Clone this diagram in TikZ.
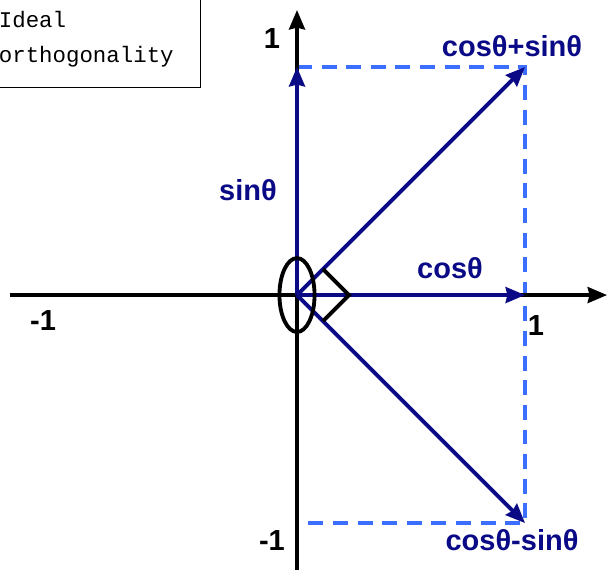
\documentclass[tikz,border=0pt]{standalone}
\usepackage{fontspec}
\setmainfont{Liberation Sans}
\setmonofont{Liberation Mono}
\usetikzlibrary{arrows.meta}

\definecolor{vecblue}{RGB}{10,10,135}
\definecolor{dashblue}{RGB}{60,110,255}

\begin{document}
\begin{tikzpicture}[
		x = 4.56cm, y = 4.56cm, % one unit = distance to the tick 1
		> = {Stealth[length=11pt, width=9pt, inset=1pt]}, % arrow head style
		line width = 2.2pt, % line style
		font = \fontsize{16.5}{19}\selectfont\bfseries
		]
		
		\tikzstyle{axis}=[draw = black, line width = 2.2pt, ->]
		\tikzstyle{vec}=[draw = vecblue, line width = 2.2pt, ->]
		\tikzstyle{guide}=[draw = dashblue, line width = 2.2pt, dash pattern = on 8.5pt off 5.5pt]
		\tikzstyle{vlabel}=[text = vecblue]
		\tikzstyle{tick}=[text = black]
		\tikzstyle{memo}=[font = \fontsize{12.75}{20.4}\selectfont\ttfamily, anchor = base west, inner sep = 0pt]
		
		\useasboundingbox (-1.3026,-1.2018) rectangle (1.364,1.294);
		
		% points
		\coordinate (o) at (0,0);
		\coordinate (e1) at (1,0);
		\coordinate (e2) at (0,1);
		\coordinate (e3) at (0,-1);
		\coordinate (pp) at (1,1);
		\coordinate (pm) at (1,-1);
		\coordinate (xl) at (-1.26,0);
		\coordinate (xr) at (1.36,0);
		\coordinate (yb) at (0,-1.25);
		\coordinate (yt) at (0,1.25);
		
		% the note box in the corner
		\node[memo] (ideal) at (-1.316,1.175) {Ideal};
		\node[memo] (ortho) at (-1.316,1.018) {orthogonality};
		\coordinate (boxtl) at (-1.40,1.40);
		\coordinate (boxbr) at (-0.425,0.912);
		\draw[line width=0.6pt] (boxtl) rectangle (boxbr);
		
		% projections
		\draw[guide] (e2) -- (pp) -- (pm) -- (e3);
		
		% axes
		\path (xl) edge[axis] (xr)
				(yb) edge[axis] (yt);
		
		% vectors
		\path (o) edge[vec] (e1)
				edge[vec] (e2)
				edge[vec] (pp)
				edge[vec] (pm);
		
		% ellipse and right angle
		\draw (o) ellipse [x radius=0.077, y radius=0.162];
		\coordinate (ra1) at (0.114,0.114);
		\coordinate (ra2) at (0.228,0);
		\coordinate (ra3) at (0.114,-0.114);
		\draw (ra1) -- (ra2) -- (ra3);
		
		% labels
		\node[tick] (ytop) at (-0.110,1.123) {1};
		\node[tick] (ybot) at (-0.110,-1.075) {-1};
		\node[tick] (xleft) at (-1.114,-0.110) {-1};
		\node[tick] (xright) at (1.048,-0.132) {1};
		\node[vlabel] (lsin) at (-0.215,0.46) {sinθ};
		\node[vlabel] (lcos) at (0.671,0.118) {cosθ};
		\node[vlabel] (lsum) at (0.943,1.092) {cosθ+sinθ};
		\node[vlabel] (ldiff) at (0.943,-1.075) {cosθ-sinθ};
	\end{tikzpicture}
\end{document}
